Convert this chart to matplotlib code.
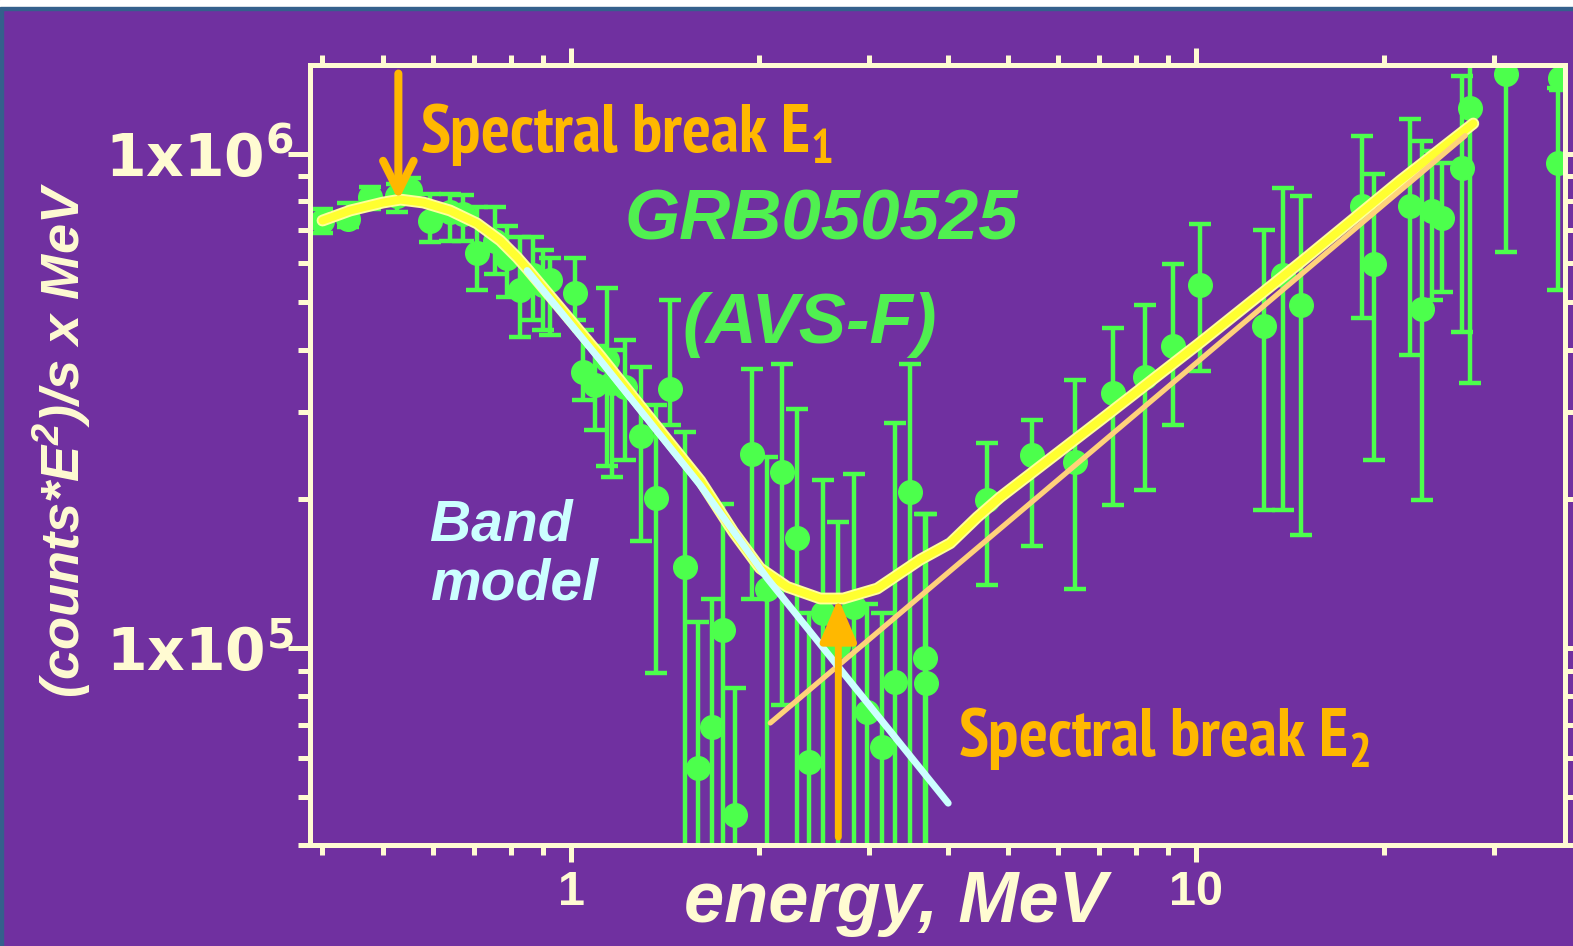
import numpy as np
import matplotlib
matplotlib.use("Agg")
import matplotlib.pyplot as plt
from matplotlib import font_manager
from matplotlib.font_manager import FontProperties
from matplotlib.patches import Rectangle
from matplotlib.ticker import LogLocator, NullFormatter

plt.rcParams['font.family'] = ['Liberation Sans', 'DejaVu Sans']

# ============================================================
# data (energy in MeV, E^2 * counts /s)
# ============================================================
energy = [0.40, 0.44, 0.477, 0.527, 0.553, 0.595, 0.640, 0.672, 0.707, 0.756,
          0.790, 0.829, 0.869, 0.902, 0.926, 1.015, 1.045, 1.092, 1.142, 1.163,
          1.220, 1.294, 1.368, 1.440, 1.522, 1.597, 1.681, 1.751, 1.830, 1.948,
          2.059, 2.176, 2.299, 2.403, 2.530, 2.675, 2.838, 2.976, 3.145, 3.299,
          3.487, 3.685, 3.70, 4.630,
          5.465, 6.404, 7.365, 8.288, 9.189, 10.15, 12.85, 13.78, 14.72, 18.43,
          19.27, 22.00, 22.99, 23.85, 24.75, 26.65, 27.44, 31.33, 37.95, 38.2]

flux = [7.32e5, 7.39e5, 8.15e5, 8.19e5, 8.42e5, 7.32e5, 7.60e5, 7.56e5, 6.28e5, 6.67e5,
        6.16e5, 5.29e5, 5.67e5, 5.41e5, 5.54e5, 5.22e5, 3.61e5, 3.40e5, 3.82e5, 3.43e5,
        3.37e5, 2.69e5, 2.01e5, 3.34e5, 1.46e5, 5.72e4, 6.92e4, 1.09e5, 4.60e4, 2.47e5,
        1.32e5, 2.27e5, 1.67e5, 5.88e4, 1.18e5, 1.01e5, 1.21e5, 7.43e4, 6.31e4, 8.54e4,
        2.07e5, 9.54e4, 8.50e4, 1.99e5,
        2.46e5, 2.38e5, 3.28e5, 3.53e5, 4.09e5, 5.41e5, 4.49e5, 5.67e5, 4.95e5, 7.85e5,
        5.99e5, 7.85e5, 4.86e5, 7.67e5, 7.42e5, 9.37e5, 1.238e6, 1.451e6, 9.55e5, 1.42e6]

flux_hi = [7.74e5, 7.93e5, 8.54e5, 8.66e5, 8.94e5, 8.30e5, 8.30e5, 8.23e5, 7.78e5, 7.78e5,
           7.15e5, 6.77e5, 6.77e5, 6.37e5, 6.16e5, 6.16e5, 4.39e5, 4.09e5, 5.34e5, 4.00e5,
           4.19e5, 3.71e5, 3.10e5, 5.05e5, 2.73e5, 1.13e5, 1.26e5, 1.96e5, 8.30e4, 3.66e5,
           2.44e5, 3.75e5, 3.05e5, 1.18e5, 2.19e5, 1.80e5, 2.25e5, 1.23e5, 1.18e5, 2.85e5,
           3.75e5, 1.87e5, 1.87e5, 2.60e5,
           2.89e5, 3.48e5, 4.43e5, 4.93e5, 5.99e5, 7.22e5, 7.02e5, 8.50e5, 8.19e5, 1.087e6,
           9.11e5, 1.177e6, 1.062e6, 1.014e6, 9.55e5, 1.437e6, 1.6e6, 1.6e6, 1.359e6, 1.6e6]

# 3e4 = bar runs off the bottom of the plot
flux_lo = [6.92e5, 7.09e5, 7.74e5, 7.60e5, 7.93e5, 6.61e5, 6.67e5, 6.67e5, 5.29e5, 5.72e5,
           5.12e5, 4.25e5, 4.60e5, 4.39e5, 4.29e5, 4.60e5, 3.17e5, 2.76e5, 2.34e5, 2.22e5,
           2.40e5, 1.65e5, 8.90e4, 2.82e5, 3e4, 3e4, 3e4, 3e4, 3e4, 1.26e5,
           3e4, 7.67e4, 3e4, 3e4, 3e4, 3e4, 3e4, 3e4, 3e4, 3e4,
           3e4, 3e4, 3e4, 1.34e5,
           1.61e5, 1.32e5, 1.95e5, 2.09e5, 2.82e5, 3.64e5, 1.90e5, 1.90e5, 1.69e5, 4.66e5,
           2.40e5, 3.91e5, 1.99e5, 5.05e5, 5.24e5, 4.35e5, 3.43e5, 6.31e5, 5.29e5, 1.341e6]

# full fit (yellow)
fit_e = [0.40, 0.443, 0.500, 0.533, 0.580, 0.640, 0.707, 0.770, 0.820, 0.850,
         1.113, 1.256, 1.424, 1.609, 1.816, 2.006, 2.216, 2.503, 2.724, 3.088,
         3.617, 4.04, 4.463, 4.858, 7.022, 10.15, 14.67, 21.21, 27.75]
fit_f = [7.32e5, 7.67e5, 7.96e5, 8.07e5, 7.96e5, 7.67e5, 7.22e5, 6.67e5, 6.16e5, 5.85e5,
         3.90e5, 3.22e5, 2.64e5, 2.18e5, 1.72e5, 1.45e5, 1.33e5, 1.26e5, 1.26e5, 1.32e5,
         1.51e5, 1.63e5, 1.84e5, 2.02e5, 2.89e5, 4.15e5, 6.02e5, 8.82e5, 1.150e6]

# Band model high-energy branch (light blue)
band_e = [0.850, 1.113, 1.609, 2.059, 2.626, 4.01]
band_f = [5.80e5, 3.82e5, 2.135e5, 1.384e5, 9.44e4, 4.86e4]

# extra power law component (light orange)
pl_e = [2.082, 26.94]
pl_f = [7.06e4, 1.087e6]

# spectral breaks
break1_e, break1_top, break1_tip = 0.529, 1.451e6, 8.04e5
break2_e, break2_tail, break2_tip = 2.675, 4.15e4, 1.262e5

x_ticks = [1, 10]
x_ticklabels = ['1', '10']
y_ticks = [1e5, 1e6]
y_ticklabels = ['1x10$^\\mathregular{5}$', '1x10$^\\mathregular{6}$']

# ============================================================
# styling
# ============================================================
PURPLE = '#7030A0'
CREAM = '#FFFBD2'
GREEN = '#4CFF4C'
AMBER = '#FFB800'
W, H = 1573, 946


def narrow_bold(size):
    """Condensed bold font if one is installed, else plain bold (smaller)."""
    for key in ('Narrow', 'Condensed'):
        for f in font_manager.fontManager.ttflist:
            name = f.fname.replace('-', '').replace('_', '')
            if key in name and 'Bold' in name and 'Oblique' not in name \
                    and 'Italic' not in name:
                return FontProperties(fname=f.fname, size=size)
    return FontProperties(family='Liberation Sans', weight='bold',
                          size=size * 0.84)


fig = plt.figure(figsize=(W / 100, H / 100), dpi=100)
fig.patch.set_facecolor(PURPLE)
fig.add_artist(Rectangle((0, 1 - 7 / H), 1, 7 / H, transform=fig.transFigure,
                         color='white', zorder=0))
fig.add_artist(Rectangle((0, 1 - 10 / H), 1, 3 / H, transform=fig.transFigure,
                         color='#34608C', zorder=0))
fig.add_artist(Rectangle((0, 0), 3 / W, 1 - 10 / H, transform=fig.transFigure,
                         color='#34608C', zorder=0))

ax = fig.add_axes([310 / W, 1 - 845 / H, (1565 - 310) / W, (845 - 65) / H])
ax.set_facecolor(PURPLE)
ax.set_xscale('log')
ax.set_yscale('log')
ax.set_xlim(0.382, 38.9)
ax.set_ylim(4.0e4, 1.51e6)

# data with error bars
flux_a = np.array(flux)
yerr = [flux_a - np.array(flux_lo), np.array(flux_hi) - flux_a]
ax.errorbar(energy, flux, yerr=yerr, fmt='o', color=GREEN, ms=17,
            markeredgecolor=GREEN, ecolor=GREEN,
            elinewidth=3.2, capsize=8, capthick=3.2, zorder=2)

# models
ax.plot(fit_e, fit_f, color='#FFFF9A', lw=8.5, solid_capstyle='round', zorder=3)
ax.plot(fit_e, fit_f, color='#FFFF30', lw=5.8, solid_capstyle='round', zorder=3.1)
ax.plot(pl_e, pl_f, color='#FFD27A', lw=3.8, solid_capstyle='round', zorder=3.2)
ax.plot(band_e, band_f, color='#CCFFFF', lw=5, solid_capstyle='round', zorder=3.3)

# break arrows
ax.annotate('', xy=(break1_e, break1_tip), xytext=(break1_e, break1_top),
            arrowprops=dict(arrowstyle='->,head_length=1.1,head_width=0.55',
                            color=AMBER, lw=5.8, mutation_scale=20,
                            shrinkA=0, shrinkB=0), zorder=5)
ax.annotate('', xy=(break2_e, break2_tip), xytext=(break2_e, break2_tail),
            arrowprops=dict(arrowstyle='-|>,head_length=1.3,head_width=0.55',
                            color=AMBER, lw=5, mutation_scale=20,
                            shrinkA=0, shrinkB=0), zorder=5)

# axes look
for sp in ax.spines.values():
    sp.set_color(CREAM)
    sp.set_linewidth(3.6)
ax.tick_params(which='both', direction='out', color=CREAM, width=3.6,
               top=True, right=True)
ax.tick_params(axis='y', which='major', length=16, pad=-4)
ax.tick_params(axis='y', which='minor', length=8.5)
ax.tick_params(axis='x', which='major', length=12, pad=6)
ax.tick_params(axis='x', which='minor', length=7)
ax.xaxis.set_minor_locator(LogLocator(base=10, subs=np.arange(2, 10)))
ax.yaxis.set_minor_locator(LogLocator(base=10, subs=np.arange(2, 10)))
ax.xaxis.set_minor_formatter(NullFormatter())
ax.yaxis.set_minor_formatter(NullFormatter())
ax.set_xticks(x_ticks, labels=x_ticklabels, fontsize=35, fontweight='bold',
              color=CREAM)
ax.set_yticks(y_ticks, labels=y_ticklabels, fontsize=42, fontweight='bold',
              color=CREAM, family='DejaVu Sans')

# labels and notes
fig.text(62 / W, 1 - 440 / H, '(counts*E$^\\mathregular{2}$)/s x MeV', rotation=90,
         ha='center', va='center', fontsize=39, fontweight='bold', style='italic',
         color=CREAM)
fig.text(895 / W, 1 - 922 / H, 'energy, MeV', ha='center', va='baseline',
         fontsize=52, fontweight='bold', style='italic', color=CREAM)
fig.text(420 / W, 1 - 152 / H, 'Spectral break E$_\\mathregular{1}$', ha='left',
         va='baseline', fontproperties=narrow_bold(49), color=AMBER)
fig.text(958 / W, 1 - 756 / H, 'Spectral break E$_\\mathregular{2}$', ha='left',
         va='baseline', fontproperties=narrow_bold(49), color=AMBER)
fig.text(821 / W, 1 - 240 / H, 'GRB050525', ha='center', va='baseline',
         fontsize=51, fontweight='bold', style='italic', color='#50F050')
fig.text(810 / W, 1 - 343 / H, '(AVS-F)', ha='center', va='baseline',
         fontsize=51, fontweight='bold', style='italic', color='#50F050')
fig.text(430 / W, 1 - 540 / H, 'Band', ha='left', va='baseline',
         fontsize=41, fontweight='bold', style='italic', color='#CCFFFF')
fig.text(430 / W, 1 - 600 / H, 'model', ha='left', va='baseline',
         fontsize=41, fontweight='bold', style='italic', color='#CCFFFF')

fig.savefig('out.png', dpi=100, facecolor=PURPLE)
